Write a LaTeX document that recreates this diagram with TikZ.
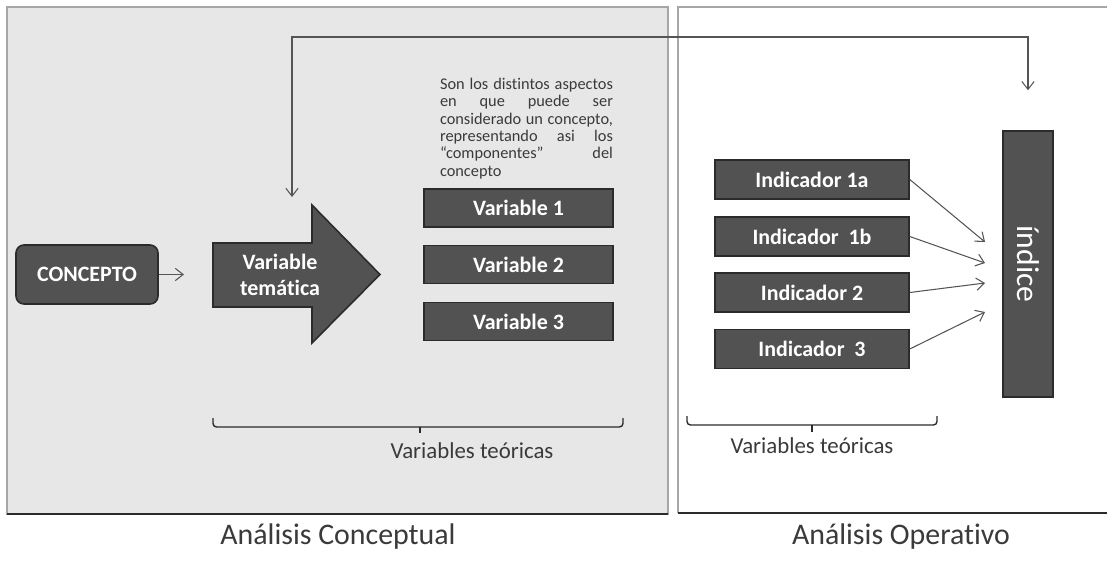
\documentclass[tikz,border=0pt]{standalone}
\usepackage{fontspec}
\setmainfont{Carlito}[Ligatures={NoCommon,TeX}]
\usetikzlibrary{arrows.meta}

\definecolor{cajagris}{HTML}{525252}
\definecolor{bordegris}{HTML}{2B2B2B}
\definecolor{fondogris}{HTML}{E7E7E7}
\definecolor{lineagris}{HTML}{555555}
\definecolor{textogris}{HTML}{3A3A3A}

\tikzset{
  punta/.tip={Straight Barb[length=4.5pt,width=7pt]},
  caja/.style={draw=bordegris, line width=0.9pt, fill=cajagris, text=white,
    font=\fontsize{12.5}{14.7}\selectfont\bfseries,
    minimum width=3.78cm, minimum height=0.76cm, inner sep=0pt},
  indicador/.style={caja, minimum width=3.88cm, minimum height=0.78cm},
  enlace/.style={draw=lineagris, line width=0.6pt, -punta},
  llave/.style={draw=bordegris, line width=0.8pt, rounded corners=2pt},
  etiqueta/.style={text=textogris, font=\fontsize{13}{15}\selectfont},
  titulo/.style={text=textogris, font=\fontsize{17}{20}\selectfont},
}

\begin{document}
\begin{tikzpicture}[x=0.02cm, y=-0.02cm]
\useasboundingbox (0,0) rectangle (1107,562);

% Paneles
\draw[draw=gray!70, fill=fondogris, line width=0.7pt] (7,7) rectangle (668,514);
\draw[bordegris, line width=1.2pt] (7,514) -- (668,514);
\draw[gray!70, line width=0.7pt] (1107,7) -- (678,7) -- (678,513);
\draw[bordegris, line width=1.2pt] (678,513) -- (1107,513);

% Analisis conceptual
\node[caja, minimum width=2.84cm, minimum height=1.18cm, rounded corners=4.5pt] (concepto) at (87,274.5) {CONCEPTO};

\filldraw[draw=bordegris, line width=0.9pt, fill=cajagris]
  (213,243) -- (312,243) -- (312,205) -- (380,274.5) -- (312,343) -- (312,307) -- (213,307) -- cycle;
\node[text=white, font=\fontsize{12.5}{14.7}\selectfont\bfseries, align=center] (vtem) at (280,275) {Variable\\temática};

\node[text width=3.46cm, align=justify, inner sep=0pt, text=textogris,
  font=\fontsize{9.3}{9.9}\selectfont] (nota) at (526.5,128.5)
  {Son los distintos aspectos\linebreak en que puede ser\linebreak considerado un concepto,\linebreak representando asi los\linebreak “componentes” del\linebreak concepto};

\node[caja] (var1) at (518.5,208) {Variable 1};
\node[caja] (var2) at (518.5,264.5) {Variable 2};
\node[caja] (var3) at (518.5,321.5) {Variable 3};

\coordinate (pv) at (184,274.5);
\draw[enlace] (concepto) -- (pv);

\draw[llave] (213,418) |- (623,427) -- (623,418);
\draw[llave] (420,427) -- (420,433);
\node[etiqueta] (vteo1) at (472,451) {Variables teóricas};

% Analisis operativo
\node[indicador] (ind1a) at (812,179.5) {Indicador 1a};
\node[indicador] (ind1b) at (812,236.5) {Indicador\ \ 1b};
\node[indicador] (ind2) at (812,292.5) {Indicador 2};
\node[indicador] (ind3) at (812,349) {Indicador\ \ 3};

\node[caja, minimum width=5.32cm, minimum height=1.0cm, rotate=-90,
  font=\fontsize{18}{20}\selectfont] (indice) at (1028,264) {índice};

\coordinate (p1a) at (985,242);
\coordinate (p1b) at (985,263);
\coordinate (p2) at (985,283);
\coordinate (p3) at (985,312);
\draw[enlace] (ind1a.east) -- (p1a);
\draw[enlace] (ind1b.east) -- (p1b);
\draw[enlace] (ind2.east) -- (p2);
\draw[enlace] (ind3.east) -- (p3);

\draw[llave] (687,416) |- (937,425) -- (937,416);
\draw[llave] (812,425) -- (812,432);
\node[etiqueta] (vteo2) at (812,446) {Variables teóricas};

% Retroalimentacion
\coordinate (fbL) at (292,197);
\coordinate (fbTop) at (660,37);
\draw[enlace, punta-punta, shorten >=0.8cm] (fbL) |- (fbTop) -| (indice);

% Titulos
\node[titulo] (anconc) at (338,537) {Análisis Conceptual};
\node[titulo] (anoper) at (901,537) {Análisis Operativo};

\end{tikzpicture}
\end{document}
